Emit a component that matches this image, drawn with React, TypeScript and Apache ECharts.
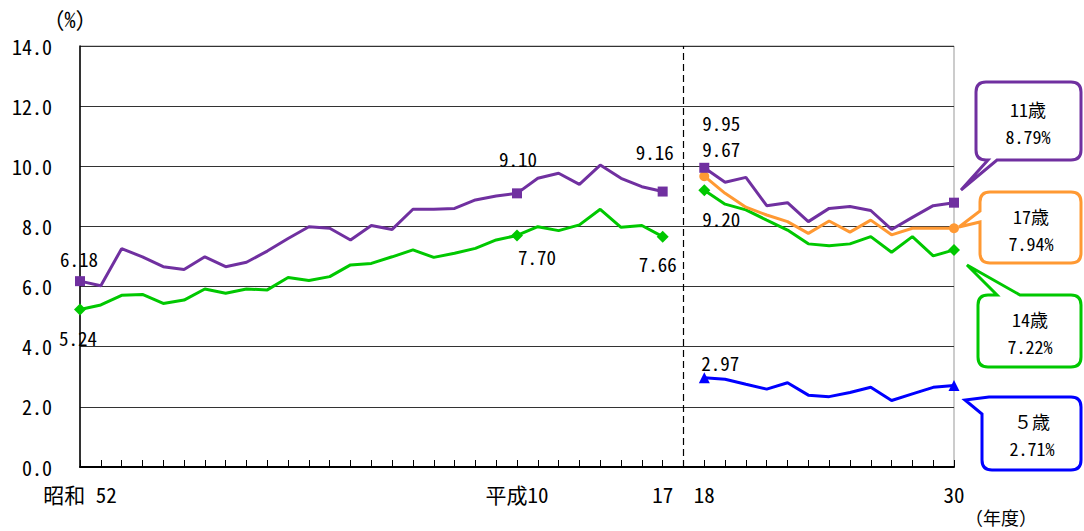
import React, { useEffect, useRef } from "react";
import * as echarts from "echarts";

// ---- data ----
const categories = [
  "昭和 52", "53", "54", "55", "56", "57", "58", "59", "60", "61", "62", "63",
  "平成元", "2", "3", "4", "5", "6", "7", "8", "9", "平成10", "11", "12", "13", "14", "15", "16", "17",
  "",
  "18", "19", "20", "21", "22", "23", "24", "25", "26", "27", "28", "29", "30",
];
const shownTickLabels = ["昭和 52", "平成10", "17", "18", "30"];
const yTicks = [0, 2, 4, 6, 8, 10, 12, 14];

const age11Early = [6.18, 6.03, 7.26, 6.99, 6.66, 6.57, 6.99, 6.66, 6.81, 7.18, 7.6, 7.99, 7.94, 7.55, 8.03, 7.9, 8.57, 8.57, 8.6, 8.88, 9.01, 9.1, 9.6, 9.77, 9.4, 10.04, 9.6, 9.32, 9.16];
const age14Early = [5.24, 5.39, 5.71, 5.74, 5.44, 5.55, 5.92, 5.78, 5.92, 5.89, 6.3, 6.2, 6.33, 6.72, 6.77, 6.99, 7.22, 6.97, 7.11, 7.27, 7.55, 7.7, 7.99, 7.86, 8.05, 8.57, 7.97, 8.03, 7.66];
const age11Late = [9.95, 9.47, 9.63, 8.69, 8.79, 8.16, 8.6, 8.66, 8.53, 7.9, 8.3, 8.69, 8.79];
const age17Late = [9.67, 9.1, 8.64, 8.38, 8.16, 7.77, 8.18, 7.81, 8.21, 7.72, 7.94, 7.94, 7.94];
const age14Late = [9.2, 8.74, 8.55, 8.21, 7.88, 7.42, 7.36, 7.42, 7.66, 7.14, 7.66, 7.02, 7.22];
const age5Late = [2.97, 2.92, 2.75, 2.59, 2.8, 2.39, 2.34, 2.48, 2.65, 2.21, 2.43, 2.65, 2.71];

const calloutTitles = ["11歳", "17歳", "14歳", "５歳"];
const calloutValues = ["8.79%", "7.94%", "7.22%", "2.71%"];

// ---- styles ----
const FONT = "'Noto Sans Mono CJK JP', 'Noto Sans CJK JP', sans-serif";
const C11 = "#7030A0";
const C14 = "#00C800";
const C17 = "#FF9933";
const C5 = "#0000FF";

const calloutPaths = [
  "M986 82 H1071 Q1081 82 1081 92 V150 Q1081 160 1071 160 H997 L961 190 L988 160 H986 Q976 160 976 150 V92 Q976 82 986 82 Z",
  "M990 192 H1071 Q1081 192 1081 202 V253 Q1081 263 1071 263 H990 Q980 263 980 253 V222 L959 227 L980 211 V202 Q980 192 990 192 Z",
  "M988 295 H997 L967 265 L1020 295 H1071 Q1081 295 1081 305 V357 Q1081 367 1071 367 H988 Q978 367 978 357 V305 Q978 295 988 295 Z",
  "M989 397 H1071 Q1081 397 1081 407 V460 Q1081 470 1071 470 H992 Q982 470 982 460 V414 L965 400 Z",
];
const calloutColors = [C11, C17, C14, C5];
const calloutTextPos = [
  [1028, 109, 136],
  [1031, 216, 243],
  [1030, 319, 346],
  [1032, 421, 448],
];

calloutPaths.forEach((d, i) => {
  echarts.graphic.registerShape("callout" + i, echarts.graphic.extendPath(d, {}));
});

const GAP = 29;
const N = categories.length;

function fullSeries(early: number[] | null, late: number[]): (number | null)[] {
  const out: (number | null)[] = [];
  for (let i = 0; i < N; i++) {
    if (early && i < early.length) out.push(early[i]);
    else if (i > GAP) out.push(late[i - GAP - 1]);
    else out.push(null);
  }
  return out;
}

function buildData(
  vals: (number | null)[],
  symbol: string,
  size: number | number[],
  labels: Record<number, [number, number]>,
  markIdx: number[]
) {
  return vals.map((v, i) => {
    if (v === null) return null;
    if (markIdx.includes(i)) {
      const off = labels[i];
      return {
        value: v,
        symbol,
        symbolSize: size,
        label: off
          ? {
              show: true,
              position: "inside",
              offset: off,
              formatter: (p: any) => Number(p.value).toFixed(2),
              color: "#000",
              fontSize: 19,
              fontFamily: FONT,
            }
          : { show: false },
      };
    }
    return { value: v, symbol: "none" };
  });
}

const marks = [0, 21, 28, 30, 42];

export default function App() {
  const ref = useRef<HTMLDivElement>(null);
  useEffect(() => {
    if (!ref.current) return;
    const chart = echarts.init(ref.current, undefined, { renderer: "svg" });
    const lineBase = {
      type: "line",
      showAllSymbol: true,
      connectNulls: false,
      silent: true,
    };
    const graphics: any[] = [];
    calloutPaths.forEach((_, i) => {
      graphics.push({
        type: "callout" + i,
        x: 0,
        y: 0,
        style: { fill: "#fff", stroke: calloutColors[i], lineWidth: 3 },
        z: 10,
      });
      graphics.push({
        type: "text",
        x: calloutTextPos[i][0],
        y: calloutTextPos[i][1],
        style: { text: calloutTitles[i], fill: "#000", fontSize: 18, fontFamily: FONT, textAlign: "center", textVerticalAlign: "middle" },
        z: 11,
      });
      graphics.push({
        type: "text",
        x: calloutTextPos[i][0],
        y: calloutTextPos[i][2],
        style: { text: calloutValues[i], fill: "#000", fontSize: 18, fontFamily: FONT, textAlign: "center", textVerticalAlign: "middle" },
        z: 11,
      });
    });
    graphics.push({
      type: "text",
      x: 70,
      y: 18,
      style: { text: "（%）", fill: "#000", fontSize: 22, fontFamily: FONT, textAlign: "center", textVerticalAlign: "middle" },
    });
    graphics.push({
      type: "text",
      x: 1001,
      y: 517,
      style: { text: "（年度）", fill: "#000", fontSize: 18, fontFamily: FONT, textAlign: "center", textVerticalAlign: "middle" },
    });

    chart.setOption({
      animation: false,
      textStyle: { fontFamily: FONT },
      grid: { left: 80, right: 130, top: 46, bottom: 64, show: true, borderColor: "#999", borderWidth: 1 },
      xAxis: {
        type: "category",
        data: categories,
        boundaryGap: false,
        axisLine: { lineStyle: { color: "#000", width: 2 } },
        axisTick: { show: true, inside: true, length: 7, interval: 0, lineStyle: { color: "#000" } },
        axisLabel: {
          interval: 0,
          margin: 16,
          fontSize: 21,
          color: "#000",
          fontFamily: FONT,
          formatter: (v: string) => (shownTickLabels.includes(v) ? v : ""),
        },
        splitLine: { show: false },
      },
      yAxis: {
        type: "value",
        min: yTicks[0],
        max: yTicks[yTicks.length - 1],
        interval: yTicks[1] - yTicks[0],
        axisLine: { show: true, lineStyle: { color: "#000", width: 1.5 } },
        axisTick: { show: false },
        axisLabel: { margin: 28, fontSize: 20, color: "#000", fontFamily: FONT, formatter: (v: number) => v.toFixed(1) },
        splitLine: { lineStyle: { color: "#333", width: 1 } },
      },
      series: [
        {
          ...lineBase,
          name: "11歳",
          data: buildData(fullSeries(age11Early, age11Late), "rect", 10, { 0: [-1, -23], 21: [1, -35], 28: [-8, -40], 30: [17, -45] }, marks),
          lineStyle: { color: C11, width: 3 },
          itemStyle: { color: C11 },
          z: 4,
          markLine: {
            silent: true,
            symbol: "none",
            label: { show: false },
            lineStyle: { type: [7, 4], color: "#000", width: 1.2 },
            data: [{ xAxis: GAP }],
          },
        },
        {
          ...lineBase,
          name: "14歳",
          data: buildData(fullSeries(age14Early, age14Late), "diamond", 12, { 0: [-2, 28], 21: [20, 21], 28: [-5, 27], 30: [17, 28] }, marks),
          lineStyle: { color: C14, width: 3 },
          itemStyle: { color: C14 },
          z: 3,
        },
        {
          ...lineBase,
          name: "17歳",
          data: buildData(fullSeries(null, age17Late), "circle", 10, { 30: [17, -28] }, marks),
          lineStyle: { color: C17, width: 3 },
          itemStyle: { color: C17 },
          z: 3,
        },
        {
          ...lineBase,
          name: "5歳",
          data: buildData(fullSeries(null, age5Late), "triangle", 11, { 30: [16, -15] }, marks),
          lineStyle: { color: C5, width: 3 },
          itemStyle: { color: C5 },
          z: 3,
        },
      ],
      graphic: graphics,
    });
    return () => chart.dispose();
  }, []);
  return <div ref={ref} style={{ position: "fixed", left: 0, top: 0, width: 1084, height: 531, background: "#fff" }} />;
}
